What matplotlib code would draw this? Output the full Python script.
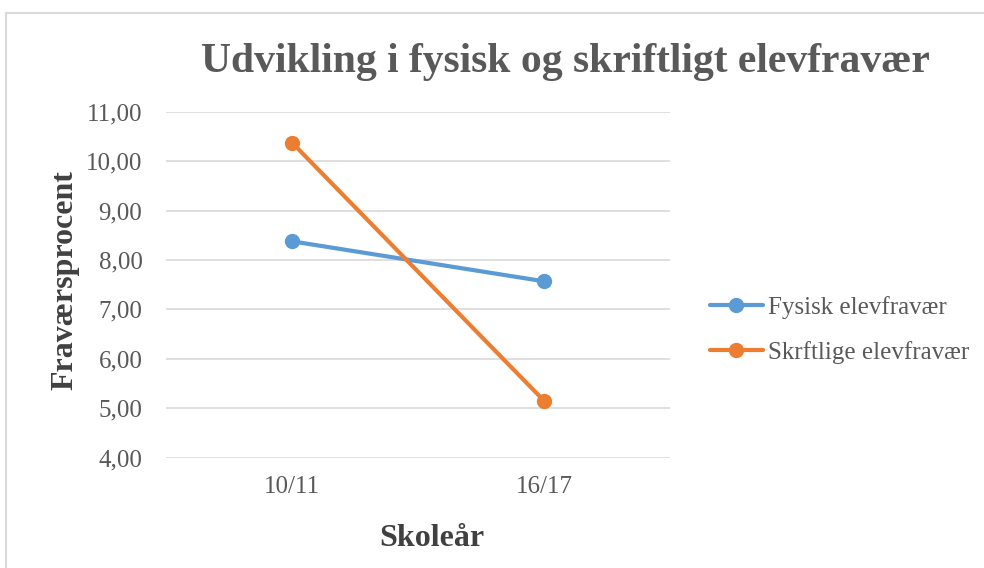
import matplotlib
matplotlib.use("Agg")
import matplotlib.pyplot as plt
from matplotlib.patches import Rectangle
from matplotlib.ticker import FuncFormatter

categories = ["10/11", "16/17"]
fysisk = [8.38, 7.57]
skriftlig = [10.38, 5.15]
series_names = ["Fysisk elevfravær", "Skrftlige elevfravær"]
yticks = [4, 5, 6, 7, 8, 9, 10, 11]

W, H = 984, 568
fig = plt.figure(figsize=(W / 100, H / 100), dpi=100)
fig.patch.set_facecolor("white")
plt.rcParams["font.family"] = ["Liberation Serif", "DejaVu Serif"]

# outer chart border
fig.add_artist(Rectangle((6 / W, -0.05), 1.1, 1 - 13 / H + 0.05, transform=fig.transFigure,
                         fill=False, edgecolor="#d9d9d9", linewidth=1.5))

left, right, top, bottom = 166, 670, 112, 457.5
ax = fig.add_axes([left / W, 1 - bottom / H, (right - left) / W, (bottom - top) / H])
ax.set_facecolor("none")

x = list(range(len(categories)))
blue = "#5b9bd5"
orange = "#ed7d31"
ax.plot(x, fysisk, color=blue, lw=3, marker="o", ms=10, label=series_names[0],
        solid_capstyle="round", zorder=3)
ax.plot(x, skriftlig, color=orange, lw=3, marker="o", ms=10, label=series_names[1],
        solid_capstyle="round", zorder=3)

ax.set_xlim(-0.5, 1.5)
ax.set_ylim(4, 11)
ax.set_yticks(yticks)
ax.yaxis.set_major_formatter(FuncFormatter(lambda v, p: f"{v:.2f}".replace(".", ",")))
ax.set_xticks(x)
ax.set_xticklabels(categories)
ax.grid(axis="y", color="#d9d9d9", lw=1.2)
ax.set_axisbelow(True)
for s in ax.spines.values():
    s.set_visible(False)
ax.tick_params(length=0, labelsize=18, colors="#595959")
ax.tick_params(axis="y", pad=17)
ax.tick_params(axis="x", pad=13)

fig.text(565 / W, 1 - 72 / H, "Udvikling i fysisk og skriftligt elevfravær",
         ha="center", va="baseline", fontsize=30, fontweight="bold", color="#595959")
fig.text(432 / W, 1 - 538 / H, "Skoleår", ha="center", va="center",
         fontsize=23, fontweight="bold", color="#404040")
fig.text(65 / W, 1 - 280 / H, "Fraværsprocent", ha="center", va="center", rotation=90,
         fontsize=23, fontweight="bold", color="#404040")

leg = fig.legend(loc="center left", bbox_to_anchor=(710 / W, 1 - 330 / H), frameon=False,
                 fontsize=18, handlelength=2.1, handletextpad=0.2, labelspacing=0.88,
                 borderpad=0, borderaxespad=0, labelcolor="#595959")

fig.savefig("out.png", dpi=100, facecolor="white")
